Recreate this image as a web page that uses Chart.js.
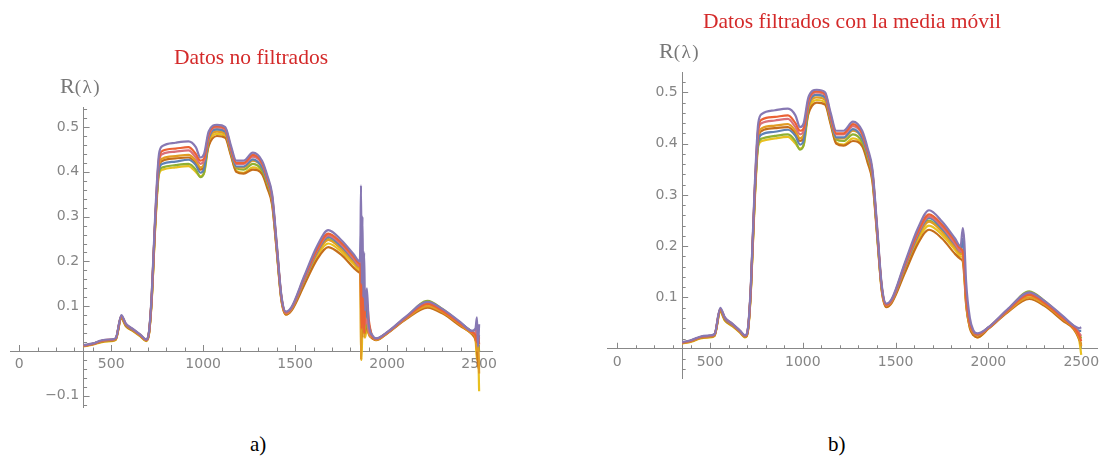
<!DOCTYPE html>
<html>
<head>
<meta charset="utf-8">
<script src="https://cdn.jsdelivr.net/npm/chart.js@4.4.1/dist/chart.umd.min.js"></script>
<style>
  body { margin: 0; background: #fff; width: 1105px; height: 470px; position: relative; overflow: hidden; }
  canvas { position: absolute; }
  #chartA { left: 0; top: 0; }
  #chartB { left: 560px; top: 0; }
  .rl { position: absolute; font-family: 'Liberation Serif', serif; color: #777; white-space: nowrap; }
  .rl .big { font-size: 22px; }
  .rl .small { font-size: 19px; letter-spacing: 1.5px; }
  .cap { position: absolute; font-family: 'Liberation Serif', serif; font-size: 21px; color: #000; }
</style>
</head>
<body>
<canvas id="chartA" width="540" height="430"></canvas>
<canvas id="chartB" width="545" height="430"></canvas>
<div class="rl" style="left:60px; top:73px;"><span class="big">R</span><span class="small">(λ)</span></div>
<div class="rl" style="left:659px; top:38px;"><span class="big">R</span><span class="small">(λ)</span></div>
<div class="cap" style="left:250px; top:432px;">a)</div>
<div class="cap" style="left:828px; top:432px;">b)</div>
<script>
// longitudes de onda (nm)
const wlHead = [350, 400, 450, 500, 525, 555, 580, 620, 660, 690, 705, 720, 740, 760, 780, 850, 920, 960, 985, 1005,
    1030, 1075, 1120, 1150, 1180, 1220, 1270, 1320, 1350, 1375, 1400, 1425, 1450, 1480, 1550, 1620, 1680, 1750, 1820, 1850];
const wlTailA = [1855, 1858, 1862, 1866, 1870, 1875, 1880, 1890, 1900, 1920, 1940, 2000, 2100, 2220, 2300, 2400, 2460, 2480, 2488, 2494, 2500];
const wlTailB = [1862, 1870, 1880, 1900, 1920, 1940, 2000, 2100, 2220, 2300, 2400, 2460, 2490, 2500];

const xTicks = [0, 500, 1000, 1500, 2000, 2500];
const yTicksA = [-0.1, 0.1, 0.2, 0.3, 0.4, 0.5];
const yTicksB = [0.1, 0.2, 0.3, 0.4, 0.5];

// reflectancia, tramo comun 350-1850
const purpleHead = [0.013, 0.017, 0.024, 0.026, 0.029, 0.080, 0.061, 0.049, 0.036, 0.026, 0.042, 0.125, 0.31,
    0.44, 0.458, 0.465, 0.468, 0.455, 0.432, 0.44, 0.49, 0.505, 0.50, 0.46, 0.425, 0.425, 0.443, 0.425,
    0.39, 0.35, 0.24, 0.125, 0.088, 0.098, 0.168, 0.235, 0.27, 0.248, 0.215, 0.20];
const redHead = [0.012, 0.016, 0.023, 0.025, 0.028, 0.078, 0.060, 0.048, 0.035, 0.025, 0.040, 0.120, 0.30,
    0.43, 0.447, 0.452, 0.455, 0.44, 0.425, 0.43, 0.485, 0.502, 0.497, 0.455, 0.42, 0.42, 0.438, 0.42,
    0.385, 0.345, 0.235, 0.122, 0.086, 0.096, 0.165, 0.228, 0.262, 0.242, 0.21, 0.195];
const pinkHead = [0.012, 0.016, 0.023, 0.025, 0.028, 0.078, 0.060, 0.048, 0.035, 0.025, 0.040, 0.120, 0.30,
    0.425, 0.44, 0.445, 0.448, 0.432, 0.418, 0.425, 0.48, 0.50, 0.495, 0.452, 0.418, 0.418, 0.434, 0.418,
    0.383, 0.343, 0.233, 0.12, 0.085, 0.095, 0.162, 0.225, 0.258, 0.238, 0.205, 0.19];
const orangeHead = [0.011, 0.015, 0.022, 0.024, 0.027, 0.076, 0.058, 0.046, 0.034, 0.024, 0.038, 0.115, 0.29,
    0.415, 0.43, 0.435, 0.438, 0.425, 0.41, 0.418, 0.47, 0.49, 0.485, 0.445, 0.41, 0.41, 0.425, 0.41,
    0.375, 0.337, 0.228, 0.118, 0.084, 0.093, 0.158, 0.218, 0.248, 0.228, 0.198, 0.185];
const blueHead = [0.012, 0.016, 0.023, 0.025, 0.028, 0.077, 0.059, 0.047, 0.035, 0.025, 0.040, 0.118, 0.295,
    0.405, 0.418, 0.423, 0.427, 0.415, 0.398, 0.407, 0.475, 0.495, 0.49, 0.448, 0.412, 0.412, 0.428, 0.41,
    0.378, 0.34, 0.23, 0.12, 0.086, 0.095, 0.16, 0.222, 0.255, 0.234, 0.203, 0.19];
const greenHead = [0.012, 0.016, 0.022, 0.024, 0.027, 0.076, 0.058, 0.046, 0.034, 0.024, 0.039, 0.116, 0.29,
    0.40, 0.41, 0.415, 0.418, 0.405, 0.388, 0.398, 0.47, 0.495, 0.49, 0.445, 0.408, 0.405, 0.418, 0.403,
    0.372, 0.335, 0.228, 0.118, 0.085, 0.094, 0.158, 0.22, 0.25, 0.23, 0.20, 0.187];
const yellowHead = [0.010, 0.014, 0.020, 0.022, 0.025, 0.072, 0.055, 0.044, 0.032, 0.022, 0.036, 0.11, 0.28,
    0.395, 0.405, 0.41, 0.413, 0.40, 0.39, 0.397, 0.46, 0.485, 0.48, 0.44, 0.402, 0.398, 0.41, 0.398,
    0.367, 0.33, 0.225, 0.115, 0.082, 0.092, 0.152, 0.212, 0.24, 0.222, 0.193, 0.18];
const brownHead = [0.011, 0.015, 0.021, 0.023, 0.026, 0.074, 0.056, 0.045, 0.033, 0.023, 0.037, 0.112, 0.285,
    0.41, 0.425, 0.43, 0.432, 0.42, 0.405, 0.412, 0.458, 0.48, 0.476, 0.438, 0.40, 0.396, 0.405, 0.395,
    0.362, 0.326, 0.222, 0.114, 0.081, 0.09, 0.148, 0.205, 0.232, 0.215, 0.185, 0.175];

// a) datos sin filtrar, 1855-2500
const purpleTailA = [0.25, 0.37, 0.15, 0.30, 0.12, 0.22, 0.09, 0.14, 0.06, 0.035, 0.028, 0.042, 0.076, 0.11, 0.094, 0.064, 0.045, 0.05, 0.075, 0.01, 0.06];
const redTailA = [0.19, 0.12, 0.05, 0.15, 0.11, 0.04, 0.10, 0.11, 0.07, 0.032, 0.027, 0.041, 0.074, 0.105, 0.09, 0.06, 0.042, 0.035, 0.02, 0.04, 0.015];
const pinkTailA = [0.19, 0.20, 0.10, 0.16, 0.08, 0.12, 0.06, 0.07, 0.045, 0.032, 0.027, 0.041, 0.074, 0.107, 0.091, 0.061, 0.043, 0.038, 0.05, 0.02, 0.03];
const orangeTailA = [0.18, -0.02, 0.10, 0.08, 0.12, 0.03, 0.07, 0.09, 0.04, 0.03, 0.025, 0.04, 0.072, 0.10, 0.087, 0.058, 0.04, 0.03, 0.0, 0.035, -0.05];
const blueTailA = [0.19, 0.27, 0.12, 0.20, 0.09, 0.10, 0.12, 0.08, 0.06, 0.032, 0.027, 0.041, 0.074, 0.108, 0.092, 0.062, 0.044, 0.04, 0.06, 0.025, 0.035];
const greenTailA = [0.185, 0.15, 0.09, 0.13, 0.07, 0.09, 0.05, 0.06, 0.042, 0.031, 0.027, 0.041, 0.074, 0.112, 0.094, 0.062, 0.043, 0.035, 0.03, 0.02, 0.0];
const yellowTailA = [0.18, 0.02, -0.02, 0.09, 0.04, 0.08, 0.03, 0.05, 0.04, 0.03, 0.025, 0.04, 0.072, 0.104, 0.088, 0.058, 0.04, 0.03, -0.02, 0.01, -0.09];
const brownTailA = [0.17, 0.10, 0.03, 0.12, 0.06, 0.11, 0.04, 0.07, 0.038, 0.028, 0.024, 0.039, 0.07, 0.097, 0.084, 0.055, 0.038, 0.025, 0.01, -0.03, -0.04];

// b) media movil, 1862-2500
const purpleTailB = [0.235, 0.21, 0.13, 0.06, 0.035, 0.03, 0.042, 0.076, 0.11, 0.094, 0.064, 0.045, 0.04, 0.042];
const redTailB = [0.19, 0.16, 0.10, 0.05, 0.033, 0.028, 0.041, 0.074, 0.105, 0.09, 0.06, 0.042, 0.025, 0.015];
const pinkTailB = [0.188, 0.158, 0.10, 0.05, 0.033, 0.028, 0.041, 0.074, 0.107, 0.091, 0.061, 0.043, 0.03, 0.025];
const orangeTailB = [0.182, 0.15, 0.09, 0.045, 0.03, 0.026, 0.04, 0.072, 0.10, 0.087, 0.058, 0.04, 0.02, 0.005];
const blueTailB = [0.215, 0.17, 0.10, 0.05, 0.033, 0.028, 0.041, 0.074, 0.108, 0.092, 0.062, 0.044, 0.035, 0.035];
const greenTailB = [0.185, 0.155, 0.095, 0.048, 0.032, 0.027, 0.041, 0.074, 0.112, 0.094, 0.062, 0.043, 0.028, 0.02];
const yellowTailB = [0.178, 0.148, 0.088, 0.042, 0.028, 0.022, 0.04, 0.072, 0.104, 0.088, 0.058, 0.04, 0.015, -0.012];
const brownTailB = [0.17, 0.14, 0.085, 0.04, 0.026, 0.022, 0.039, 0.07, 0.097, 0.084, 0.055, 0.038, 0.018, 0.008];

const series = [
    ['Muestra 1', '#8778B3', purpleHead, purpleTailA, purpleTailB],
    ['Muestra 2', '#EB6235', redHead, redTailA, redTailB],
    ['Muestra 3', '#D9707A', pinkHead, pinkTailA, pinkTailB],
    ['Muestra 4', '#5E81B5', blueHead, blueTailA, blueTailB],
    ['Muestra 5', '#E19C24', orangeHead, orangeTailA, orangeTailB],
    ['Muestra 6', '#8FB032', greenHead, greenTailA, greenTailB],
    ['Muestra 7', '#C56E1A', brownHead, brownTailA, brownTailB],
    ['Muestra 8', '#E8C020', yellowHead, yellowTailA, yellowTailB]
];

function makeDatasets(useA) {
    const wl = wlHead.concat(useA ? wlTailA : wlTailB);
    return series.map(s => {
        const vals = s[2].concat(useA ? s[3] : s[4]);
        return {
            label: s[0],
            borderColor: s[1],
            backgroundColor: s[1],
            borderWidth: 2.2,
            pointRadius: 0,
            cubicInterpolationMode: 'monotone',
            data: wl.map((x, i) => ({x: x, y: vals[i]}))
        };
    });
}

// marcas de las escalas estilo Mathematica (hacia dentro)
const axisTicks = {
    id: 'axisTicks',
    beforeDatasetsDraw(chart) {
        const {ctx, scales: {x, y}} = chart;
        const y0 = y.getPixelForValue(0);
        const x0 = x.getPixelForValue(350);
        ctx.save();
        ctx.strokeStyle = '#888';
        ctx.lineWidth = 1;
        ctx.beginPath();
        for (let v = 0; v <= x.max; v += 100) {
            const px = Math.round(x.getPixelForValue(v)) + 0.5;
            const len = v % 500 === 0 ? 6 : 3.5;
            ctx.moveTo(px, y0);
            ctx.lineTo(px, y0 - len);
        }
        for (let k = Math.ceil(y.min / 0.02); k * 0.02 <= y.max; k++) {
            if (k === 0) continue;
            const py = Math.round(y.getPixelForValue(k * 0.02)) + 0.5;
            const len = k % 5 === 0 ? 6 : 3.5;
            ctx.moveTo(x0, py);
            ctx.lineTo(x0 + len, py);
        }
        ctx.stroke();
        ctx.restore();
    }
};

// etiqueta del eje y, separada un poco del eje
function fmt(v) {
    return (v < 0 ? '\u2212' + Math.abs(v) : String(v)) + ' ';
}

function makeConfig(title, useA, xMin, xMax, yMin, yMax, yTicks, padding, titlePad) {
    return {
        type: 'line',
        data: {datasets: makeDatasets(useA)},
        options: {
            responsive: false,
            devicePixelRatio: 1,
            animation: false,
            layout: {padding: padding},
            plugins: {
                legend: {display: false},
                tooltip: {enabled: false},
                title: {
                    display: true,
                    text: title,
                    color: '#d42a2a',
                    font: {family: 'Liberation Serif', size: 21.5, weight: 'normal'},
                    padding: titlePad
                }
            },
            scales: {
                x: {
                    type: 'linear',
                    min: xMin,
                    max: xMax,
                    position: {y: 0},
                    afterBuildTicks: s => { s.ticks = xTicks.map(v => ({value: v})); },
                    afterFit: s => { s.height = 0; s.paddingLeft = 0; s.paddingRight = 0; },
                    grid: {display: true, drawOnChartArea: false, drawTicks: false},
                    border: {color: '#888', width: 1},
                    ticks: {color: '#858585', padding: 5, font: {family: 'DejaVu Sans', size: 14}, maxRotation: 0, autoSkip: false,
                        callback: v => String(v)}
                },
                y: {
                    type: 'linear',
                    min: yMin,
                    max: yMax,
                    position: {x: 350},
                    afterBuildTicks: s => { s.ticks = yTicks.map(v => ({value: v})); },
                    afterFit: s => { s.width = 0; s.paddingTop = 0; s.paddingBottom = 0; },
                    grid: {display: true, drawOnChartArea: false, drawTicks: false},
                    border: {color: '#888', width: 1},
                    ticks: {color: '#858585', padding: 12, font: {family: 'DejaVu Sans', size: 14}, callback: v => fmt(v), autoSkip: false}
                }
            }
        },
        plugins: [axisTicks]
    };
}

const chartA = new Chart(document.getElementById('chartA'),
    makeConfig('Datos no filtrados', true, -50, 2570, -0.125, 0.543, yTicksA,
        {left: 10, right: 48, top: 0, bottom: 23}, {top: 45, bottom: 37}));

const chartB = new Chart(document.getElementById('chartB'),
    makeConfig('Datos filtrados con la media móvil', false, -55, 2585, -0.057, 0.538, yTicksB,
        {left: 47, right: 8, top: 0, bottom: 52}, {top: 9, bottom: 38}));
</script>
</body>
</html>
